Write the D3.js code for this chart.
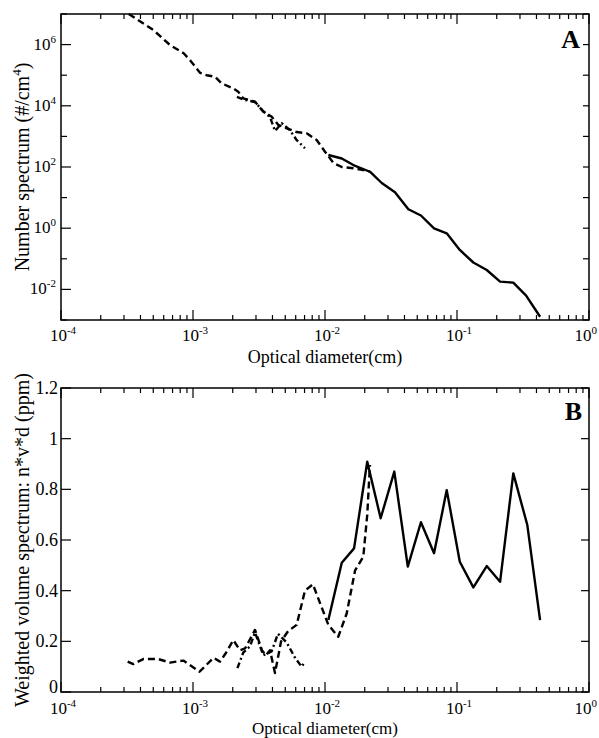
<!DOCTYPE html>
<html>
<head>
<meta charset="utf-8">
<script src="https://cdn.jsdelivr.net/npm/d3@7"></script>
<style>
  body { margin: 0; background: #fff; }
</style>
</head>
<body>
<div id="chart"></div>
<script>
// panel A: number spectrum, [diameter cm, #/cm^4]
var numDashed = [[3.26e-4,1e7],[5.0e-4,3.0e6],[6.7e-4,9.7e5],[8.5e-4,5.2e5],[9.5e-4,3.1e5],[1.13e-3,1.2e5],
  [1.27e-3,1.0e5],[1.47e-3,8.9e4],[1.65e-3,5.4e4],[2.02e-3,3.7e4],[2.2e-3,2.9e4],[2.4e-3,1.76e4],[2.95e-3,1.36e4],
  [3.41e-3,6.4e3],[3.95e-3,4.4e3],[4.43e-3,2.36e3],[5.13e-3,1.84e3],[6.1e-3,1.39e3],[7.26e-3,1.26e3],[8.65e-3,762],
  [1.0e-2,316],[1.16e-2,135],[1.34e-2,100],[1.64e-2,91],[1.95e-2,80],[2.19e-2,71]];
var numDashDot = [[2.15e-3,1.94e4],[2.48e-3,1.55e4],[2.95e-3,1.33e4],[3.39e-3,6.8e3],[3.83e-3,4.3e3],[4.18e-3,1.5e3],
  [4.7e-3,2.7e3],[5.43e-3,1.6e3],[6.1e-3,760],[7.05e-3,410]];
var numSolid = [[1.06e-2,247],[1.34e-2,190],[1.64e-2,116],[2.19e-2,70],[2.69e-2,30],[3.39e-2,15],[4.28e-2,4.15],
  [5.33e-2,2.6],[6.7e-2,0.99],[8.36e-2,0.68],[0.105,0.194],[0.133,0.0757],[0.168,0.043],[0.212,0.0179],
  [0.267,0.0166],[0.334,0.0063],[0.426,0.00128]];

// panel B: weighted volume spectrum, [diameter cm, ppm]
var volDashed = [[3.2e-4,0.12],[3.53e-4,0.11],[4.2e-4,0.13],[5.46e-4,0.13],[6.7e-4,0.116],[8.45e-4,0.124],
  [1.12e-3,0.08],[1.43e-3,0.135],[1.6e-3,0.12],[1.78e-3,0.155],[2.02e-3,0.205],[2.27e-3,0.165],[2.48e-3,0.172],
  [2.95e-3,0.245],[3.33e-3,0.165],[3.57e-3,0.145],[3.83e-3,0.165],[4.18e-3,0.075],[4.65e-3,0.2],[5.25e-3,0.24],
  [6.1e-3,0.265],[7.05e-3,0.4],[8.1e-3,0.425],[1.06e-2,0.265],[1.26e-2,0.218],[1.46e-2,0.31],[1.69e-2,0.48],
  [1.95e-2,0.534],[2.09e-2,0.7],[2.19e-2,0.896]];
var volDashDot = [[2.17e-3,0.094],[2.4e-3,0.155],[2.7e-3,0.18],[2.95e-3,0.235],[3.41e-3,0.145],[3.94e-3,0.16],
  [4.4e-3,0.23],[5.13e-3,0.195],[5.93e-3,0.135],[6.65e-3,0.1],[7.05e-3,0.12]];
var volSolid = [[1.06e-2,0.284],[1.34e-2,0.51],[1.66e-2,0.567],[2.09e-2,0.909],[2.64e-2,0.686],[3.35e-2,0.87],
  [4.24e-2,0.495],[5.33e-2,0.67],[6.7e-2,0.548],[8.36e-2,0.797],[0.105,0.514],[0.133,0.413],[0.168,0.497],
  [0.212,0.435],[0.267,0.863],[0.341,0.659],[0.426,0.284]];

var xExps = [-4, -3, -2, -1, 0];
var yExpsA = [-2, 0, 2, 4, 6];
var yTicksB = [0, 0.2, 0.4, 0.6, 0.8, 1, 1.2];

var W = 599, H = 738;
var left = 61, right = 589;
var FONT = "'Liberation Serif', 'Times New Roman', 'DejaVu Serif', serif";

var svg = d3.select("#chart").append("svg")
  .attr("width", W).attr("height", H)
  .attr("font-family", FONT);

var x = d3.scaleLog().domain([1e-4, 1]).range([left, right]);

// all log minor ticks inside the x range
var minorX = [];
xExps.slice(0, -1).forEach(function (e) {
  for (var k = 2; k <= 9; k++) minorX.push(k * Math.pow(10, e));
});

function txt(g) {
  return g.append("text").attr("font-family", FONT).attr("fill", "#000");
}

function lineStyle(sel, kind) {
  sel.attr("fill", "none").attr("stroke", "#000").attr("stroke-width", 2.4)
    .attr("stroke-linejoin", "round");
  if (kind == "dashed") sel.attr("stroke-dasharray", "7,4");
  if (kind == "dashdot") sel.attr("stroke-dasharray", "6,3,2,3");
}

function xAxis(g, top, bottom, tickOff, labOff, labSize) {
  g.append("rect").attr("x", left).attr("y", top).attr("width", right - left).attr("height", bottom - top)
    .attr("fill", "none").attr("stroke", "#000").attr("stroke-width", 1.5);
  xExps.forEach(function (e) {
    var px = x(Math.pow(10, e));
    g.append("line").attr("x1", px).attr("x2", px).attr("y1", bottom).attr("y2", bottom - 10).attr("stroke", "#000").attr("stroke-width", 1.2);
    g.append("line").attr("x1", px).attr("x2", px).attr("y1", top).attr("y2", top + 10).attr("stroke", "#000").attr("stroke-width", 1.2);
    var last = e == 0;
    var t = txt(g).attr("x", last ? W - 2 : px + 2).attr("y", bottom + tickOff)
      .attr("text-anchor", last ? "end" : "middle").attr("font-size", 17);
    t.append("tspan").text("10");
    t.append("tspan").attr("dy", -7).attr("font-size", 11).text(e);
  });
  minorX.forEach(function (v) {
    var px = x(v);
    g.append("line").attr("x1", px).attr("x2", px).attr("y1", bottom).attr("y2", bottom - 5).attr("stroke", "#000").attr("stroke-width", 1.2);
    g.append("line").attr("x1", px).attr("x2", px).attr("y1", top).attr("y2", top + 5).attr("stroke", "#000").attr("stroke-width", 1.2);
  });
  txt(g).attr("x", (left + right) / 2).attr("y", bottom + labOff).attr("text-anchor", "middle")
    .attr("font-size", labSize).text("Optical diameter(cm)");
}

// ---------- panel A ----------
var topA = 14, botA = 320;
var yA = d3.scaleLog().domain([1e-3, 1e7]).range([botA, topA]);
var gA = svg.append("g");

var lineA = d3.line().x(function (d) { return x(d[0]); }).y(function (d) { return yA(d[1]); });
gA.append("path").datum(numDashed).attr("d", lineA).call(lineStyle, "dashed");
gA.append("path").datum(numDashDot).attr("d", lineA).call(lineStyle, "dashdot");
gA.append("path").datum(numSolid).attr("d", lineA).call(lineStyle, "solid");

xAxis(gA, topA, botA, 21, 43, 18);
d3.range(-3, 8).forEach(function (e) {
  var py = yA(Math.pow(10, e));
  var major = yExpsA.indexOf(e) >= 0;
  gA.append("line").attr("x1", left).attr("x2", left + (major ? 10 : 6)).attr("y1", py).attr("y2", py).attr("stroke", "#000").attr("stroke-width", 1.2);
  gA.append("line").attr("x1", right).attr("x2", right - 6).attr("y1", py).attr("y2", py).attr("stroke", "#000").attr("stroke-width", 1.2);
});
yExpsA.forEach(function (e) {
  var t = txt(gA).attr("x", left - 5).attr("y", yA(Math.pow(10, e)) + 5).attr("text-anchor", "end").attr("font-size", 17);
  t.append("tspan").text("10");
  t.append("tspan").attr("dy", -7).attr("font-size", 11).text(e);
});
var labA = txt(gA).attr("transform", "translate(29," + (topA + botA) / 2 + ") rotate(-90)")
  .attr("text-anchor", "middle").attr("font-size", 20);
labA.append("tspan").text("Number spectrum (#/cm");
labA.append("tspan").attr("dy", -8).attr("font-size", 13).text("4");
labA.append("tspan").attr("dy", 8).text(")");
txt(gA).attr("x", 580).attr("y", 48).attr("text-anchor", "end").attr("font-size", 26)
  .attr("font-weight", "bold").text("A");

// ---------- panel B ----------
var topB = 388, botB = 692;
var yB = d3.scaleLinear().domain([0, 1.2]).range([botB, topB]);
var gB = svg.append("g");

var lineB = d3.line().x(function (d) { return x(d[0]); }).y(function (d) { return yB(d[1]); });
gB.append("path").datum(volDashed).attr("d", lineB).call(lineStyle, "dashed");
gB.append("path").datum(volDashDot).attr("d", lineB).call(lineStyle, "dashdot");
gB.append("path").datum(volSolid).attr("d", lineB).call(lineStyle, "solid");

xAxis(gB, topB, botB, 22, 42, 17);
yTicksB.forEach(function (v) {
  var py = yB(v);
  gB.append("line").attr("x1", left).attr("x2", left + 10).attr("y1", py).attr("y2", py).attr("stroke", "#000").attr("stroke-width", 1.2);
  gB.append("line").attr("x1", right).attr("x2", right - 8).attr("y1", py).attr("y2", py).attr("stroke", "#000").attr("stroke-width", 1.2);
  txt(gB).attr("x", left - 3).attr("y", py + (v == 0 ? 1 : 6)).attr("text-anchor", "end").attr("font-size", 18)
    .text(d3.format("")(v));
});
txt(gB).attr("transform", "translate(29," + (topB + botB) / 2 + ") rotate(-90)")
  .attr("text-anchor", "middle").attr("font-size", 20).text("Weighted volume spectrum: n*v*d (ppm)");
txt(gB).attr("x", 582).attr("y", 420).attr("text-anchor", "end").attr("font-size", 26)
  .attr("font-weight", "bold").text("B");
</script>
</body>
</html>
